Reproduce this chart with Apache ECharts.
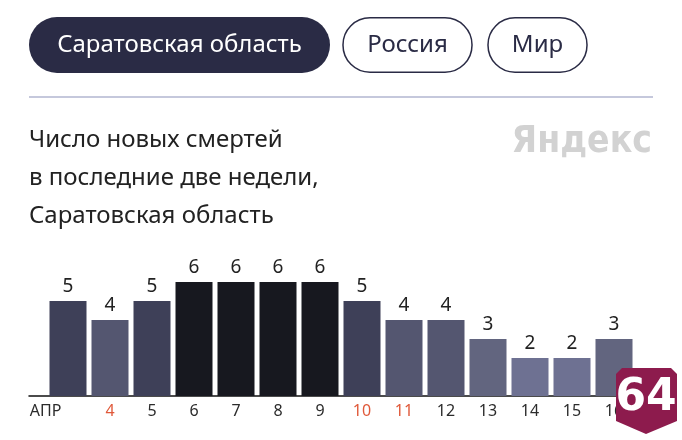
<!DOCTYPE html>
<html>
<head>
<meta charset="utf-8">
<script src="https://cdn.jsdelivr.net/npm/echarts@6/dist/echarts.min.js"></script>
<style>
html, body { margin: 0; padding: 0; background: #fff; }
#chart { width: 682px; height: 440px; }
</style>
</head>
<body>
<div id="chart"></div>
<script>
// дни апреля (первый подписан месяцем) и число смертей
const days = ['АПР', '4', '5', '6', '7', '8', '9', '10', '11', '12', '13', '14', '15', '16'];
const deaths = [5, 4, 5, 6, 6, 6, 6, 5, 4, 4, 3, 2, 2, 3];
const redDays = ['4', '10', '11'];
const tabs = ['Саратовская область', 'Россия', 'Мир'];
const titleLines = ['Число новых смертей', 'в последние две недели,', 'Саратовская область'];
// цвет столбика по значению: 2..6
const shades = { 2: '#6e7192', 3: '#62657f', 4: '#545670', 5: '#3e4058', 6: '#17181f' };

const font = 'Noto Sans';
const dark = '#2a2b45';

const chart = echarts.init(document.getElementById('chart'));

const option = {
    animation: false,
    grid: [
        { left: 47, right: 47, top: 244, bottom: 44 },
        { left: 29, right: 47, top: 244, bottom: 44 }
    ],
    xAxis: [
        {
            type: 'category',
            data: days,
            gridIndex: 0,
            axisLine: { show: false },
            axisTick: { show: false },
            axisLabel: {
                interval: 0,
                margin: 7,
                fontFamily: font,
                fontSize: 16,
                formatter: function (v, i) {
                    if (i === 0) return '{m|' + v + '}';
                    if (redDays.indexOf(v) >= 0) return '{r|' + v + '}';
                    return '{n|' + v + '}';
                },
                rich: {
                    m: { fontFamily: font, fontSize: 16, color: '#2b2b2b', padding: [0, 45, 0, 0] },
                    r: { fontFamily: font, fontSize: 16, color: '#e0593a' },
                    n: { fontFamily: font, fontSize: 16, color: '#2b2b2b' }
                }
            }
        },
        {
            type: 'value',
            gridIndex: 1,
            min: 0,
            max: 1,
            axisLine: { show: true, lineStyle: { color: '#111', width: 1.5 } },
            axisTick: { show: false },
            axisLabel: { show: false },
            splitLine: { show: false }
        }
    ],
    yAxis: [
        { type: 'value', gridIndex: 0, min: 0, max: 8, show: false },
        { type: 'value', gridIndex: 1, min: 0, max: 1, show: false }
    ],
    series: [
        {
            type: 'bar',
            data: deaths,
            barWidth: 37,
            itemStyle: {
                color: function (p) { return shades[p.value]; }
            },
            label: {
                show: true,
                position: 'top',
                distance: 5,
                fontFamily: font,
                fontSize: 19,
                color: '#222'
            }
        }
    ],
    graphic: [
        // кнопки
        { type: 'rect', shape: { x: 29, y: 17, width: 301, height: 56, r: 28 }, style: { fill: dark } },
        { type: 'text', x: 179.5, y: 45, style: { text: tabs[0], fill: '#fff', font: '24px "Noto Sans"', align: 'center', verticalAlign: 'middle' } },
        { type: 'rect', shape: { x: 343, y: 17.75, width: 129, height: 54.5, r: 27 }, style: { fill: '#fff', stroke: dark, lineWidth: 1.5 } },
        { type: 'text', x: 407.5, y: 45, style: { text: tabs[1], fill: dark, font: '24px "Noto Sans"', align: 'center', verticalAlign: 'middle' } },
        { type: 'rect', shape: { x: 488, y: 17.75, width: 99, height: 54.5, r: 27 }, style: { fill: '#fff', stroke: dark, lineWidth: 1.5 } },
        { type: 'text', x: 537.5, y: 45, style: { text: tabs[2], fill: dark, font: '24px "Noto Sans"', align: 'center', verticalAlign: 'middle' } },
        { type: 'line', shape: { x1: 29, y1: 97, x2: 653, y2: 97 }, style: { stroke: '#c5c8dc', lineWidth: 2 } },
        // заголовок
        { type: 'text', left: 29, top: 121, style: { text: titleLines.join('\n'), fill: '#222', font: '24px "Noto Sans"', lineHeight: 38 } },
        { type: 'text', x: 652, y: 142, style: { text: 'Яндекс', fill: '#d2d2d2', font: 'bold 37px "DejaVu Sans Condensed"', align: 'right', verticalAlign: 'middle' } },
        // значок 64
        {
            type: 'polygon', z: 100,
            shape: { points: [[622, 368], [671, 368], [677, 374], [677, 421], [646, 434], [616, 421], [616, 374]] },
            style: { fill: '#8d1b4d' }
        },
        { type: 'text', z: 101, x: 646, y: 399, style: { text: '64', fill: '#fff', font: 'bold 44px "DejaVu Sans"', align: 'center', verticalAlign: 'middle' } }
    ]
};

chart.setOption(option);
</script>
</body>
</html>
